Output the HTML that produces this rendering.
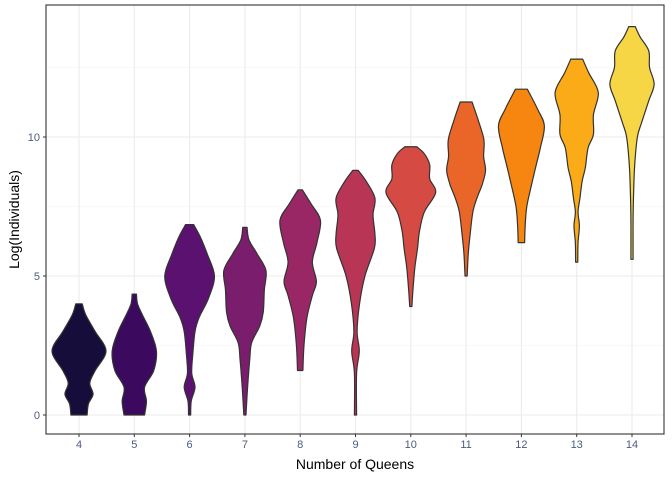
<!DOCTYPE html>
<html><head><meta charset="utf-8"><style>
body{margin:0;background:#fff;}
svg text{font-family:"Liberation Sans",sans-serif;}
</style></head><body>
<svg id="chart" width="672" height="480" xmlns="http://www.w3.org/2000/svg">
<rect width="672" height="480" fill="#fff"/>
<g id="grid"></g>
<g id="violins"></g>
<g id="axes"></g>
</svg>
<script>
const categories=[4,5,6,7,8,9,10,11,12,13,14];
const colors=["#170d3b","#3b0a5e","#5a1170","#7a1d6d","#9a2765","#b93556","#d54a42","#ea6628","#f6860f","#fbab17","#f6d645"];
const yTicks=[0,5,10];
const yMinor=[2.5,7.5,12.5];
const dens4=[[0,0.3],[0.4,0.35],[0.75,0.52],[1.15,0.4],[1.6,0.6],[2.3,1.0],[3.0,0.6],[3.6,0.25],[4.0,0.12]];
const dens5=[[0,0.38],[0.5,0.45],[1.0,0.38],[1.6,0.72],[2.3,0.82],[3.0,0.6],[3.6,0.3],[4.0,0.12],[4.35,0.08]];
const dens6=[[0,0.04],[0.5,0.06],[1.0,0.2],[1.5,0.08],[2.2,0.12],[3.0,0.2],[3.5,0.35],[4.2,0.7],[5.0,0.92],[5.8,0.65],[6.4,0.4],[6.85,0.15]];
const dens7=[[0,0.04],[1,0.1],[2,0.18],[2.6,0.25],[3.2,0.55],[3.7,0.68],[4.5,0.72],[5.2,0.78],[5.8,0.45],[6.3,0.15],[6.75,0.08]];
const dens8=[[1.6,0.1],[2.5,0.14],[3.5,0.25],[4.3,0.45],[4.8,0.6],[5.5,0.45],[6.2,0.62],[7.0,0.75],[7.6,0.4],[8.1,0.08]];
const dens9=[[0,0.04],[1.5,0.04],[2.3,0.14],[3.0,0.06],[4.0,0.15],[5.0,0.35],[6.0,0.7],[6.5,0.72],[7.2,0.65],[7.8,0.72],[8.4,0.4],[8.8,0.1]];
const dens10=[[3.9,0.04],[4.5,0.08],[5.3,0.15],[6.0,0.25],[6.6,0.32],[7.3,0.5],[8.0,0.92],[8.5,0.7],[9.0,0.7],[9.4,0.5],[9.65,0.22]];
const dens11=[[5.0,0.04],[5.8,0.08],[6.5,0.15],[7.3,0.25],[7.8,0.4],[8.3,0.6],[8.8,0.72],[9.3,0.65],[9.9,0.66],[10.6,0.45],[11.26,0.22]];
const dens12=[[6.2,0.12],[6.8,0.14],[7.5,0.2],[8.3,0.38],[9.0,0.55],[9.6,0.7],[10.4,0.85],[11.0,0.6],[11.72,0.22]];
const dens13=[[5.5,0.04],[6.2,0.05],[6.8,0.1],[7.3,0.05],[7.8,0.12],[8.4,0.2],[8.9,0.32],[9.6,0.42],[10.1,0.62],[10.8,0.62],[11.6,0.8],[12.3,0.45],[12.8,0.22]];
const dens14=[[5.6,0.04],[7.0,0.04],[8.0,0.06],[9.0,0.1],[10.0,0.2],[10.5,0.35],[11.3,0.62],[11.9,0.82],[12.5,0.65],[13.1,0.62],[13.6,0.3],[13.97,0.12]];
const densities=[dens4,dens5,dens6,dens7,dens8,dens9,dens10,dens11,dens12,dens13,dens14];

const NS="http://www.w3.org/2000/svg";
const L=46,R=664,T=5,B=434;
function xs(c){return 79+(c-4)*55.3;}
function ys(v){return 415-v*27.8;}
const W=27;
function mk(tag,attrs,parent){const e=document.createElementNS(NS,tag);for(const k in attrs)e.setAttribute(k,attrs[k]);parent.appendChild(e);return e;}
const grid=document.getElementById('grid');
mk('rect',{x:L,y:T,width:R-L,height:B-T,fill:'#fff'},grid);
yMinor.forEach(v=>{const l=mk('line',{x1:L,x2:R,y1:ys(v),y2:ys(v),stroke:'#f2f2f2','stroke-width':0.6},grid);

});
yTicks.forEach(v=>{const l=mk('line',{x1:L,x2:R,y1:ys(v),y2:ys(v),stroke:'#ebebeb','stroke-width':1.1},grid);

});
categories.forEach(c=>{const l=mk('line',{x1:xs(c),x2:xs(c),y1:T,y2:B,stroke:'#ebebeb','stroke-width':1.1},grid);

});

function catmull(pts){let d='';
for(let i=0;i<pts.length-1;i++){
  const p0=pts[Math.max(i-1,0)],p1=pts[i],p2=pts[i+1],p3=pts[Math.min(i+2,pts.length-1)];
  const c1=[p1[0]+(p2[0]-p0[0])/6,p1[1]+(p2[1]-p0[1])/6];
  const c2=[p2[0]-(p3[0]-p1[0])/6,p2[1]-(p3[1]-p1[1])/6];
  d+=' C'+c1[0]+','+c1[1]+' '+c2[0]+','+c2[1]+' '+p2[0]+','+p2[1];}
return d;}
const vg=document.getElementById('violins');
categories.forEach((c,i)=>{
  const d=densities[i],cx=xs(c);
  const right=d.map(p=>[cx+p[1]*W,ys(p[0])]);
  const left=d.slice().reverse().map(p=>[cx-p[1]*W,ys(p[0])]);
  let path='M'+right[0][0]+','+right[0][1]+catmull(right)+' L'+left[0][0]+','+left[0][1]+catmull(left)+' Z';
  const e=mk('path',{d:path,fill:colors[i],stroke:'#333','stroke-width':1.2,'stroke-linejoin':'round'},vg);
  
  
});
const ax=document.getElementById('axes');
const border=mk('rect',{x:L,y:T,width:R-L,height:B-T,fill:'none',stroke:'#333','stroke-width':1.1},ax);


yTicks.forEach(v=>{
  mk('line',{x1:L-3,x2:L,y1:ys(v),y2:ys(v),stroke:'#333'},ax);
  const t=mk('text',{x:L-6,y:ys(v)+4,'text-anchor':'end','font-size':11,fill:'#4d5a80'},ax);
  t.textContent=v;
  
  
});
categories.forEach(c=>{
  mk('line',{x1:xs(c),x2:xs(c),y1:B,y2:B+3,stroke:'#333'},ax);
  const t=mk('text',{x:xs(c),y:B+14,'text-anchor':'middle','font-size':11,fill:'#4d5a80'},ax);
  t.textContent=c;
  
  
});
const xt=mk('text',{x:(L+R)/2,y:469,'text-anchor':'middle','font-size':14,fill:'#000'},ax);
xt.textContent='Number of Queens';


const yt=mk('text',{x:0,y:0,'text-anchor':'middle','font-size':14,fill:'#000',transform:'translate(19,'+((T+B)/2)+') rotate(-90)'},ax);
yt.textContent='Log(Individuals)';


</script>
</body></html>
